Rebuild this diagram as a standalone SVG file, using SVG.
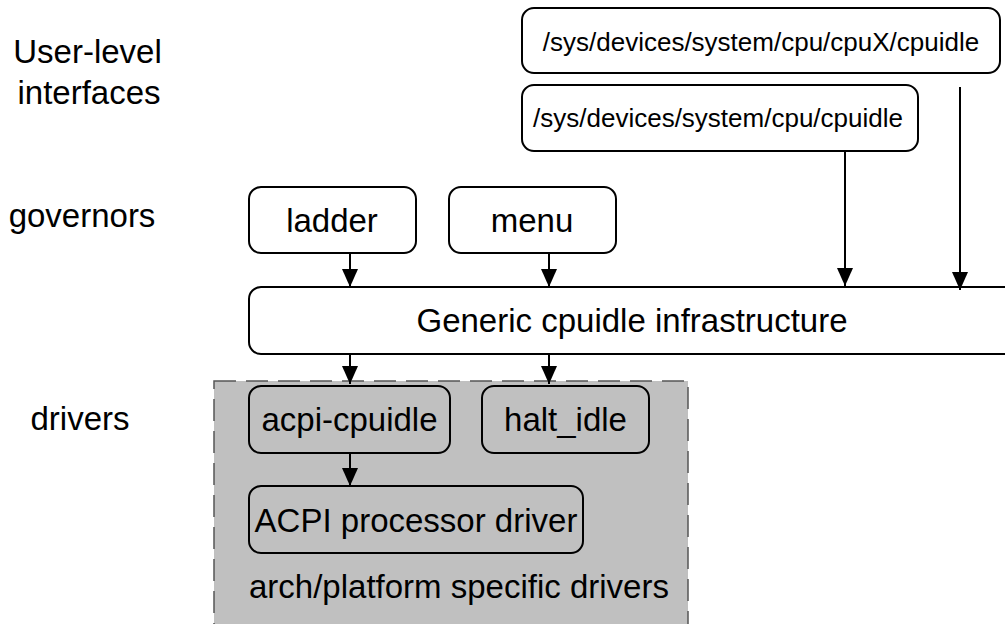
<svg xmlns="http://www.w3.org/2000/svg" width="1005" height="624" viewBox="0 0 1005 624">
<defs>
<marker id="arr" markerWidth="18" markerHeight="16" refX="18" refY="8" orient="auto" markerUnits="userSpaceOnUse" viewBox="0 0 18 16">
<path d="M0,0 L18,8 L0,16 Z" fill="#000"/>
</marker>
<style>
text{font-family:"Liberation Sans",Arial,sans-serif;fill:#000}
.box{fill:#fff;stroke:#000;stroke-width:2}
.gbox{fill:#c0c0c0;stroke:#000;stroke-width:2}
.big{font-size:33px}
.small{font-size:26px}
.c{text-anchor:middle}
.conn line{stroke:#000;stroke-width:2;marker-end:url(#arr)}
</style>
</defs>
<rect width="1005" height="624" fill="#fff"/>
<g id="labels">
<text class="big c" x="87.500" y="63">User-level</text>
<text class="big c" x="89" y="104">interfaces</text>
<text class="big c" x="82" y="227">governors</text>
<text class="big c" x="80" y="430">drivers</text>
</g>
<g id="drivers-area">
<rect x="214" y="381" width="474" height="250" fill="#c0c0c0" stroke="#555" stroke-width="1.5" stroke-dasharray="22,10"/>
<text class="big" x="249" y="598">arch/platform specific drivers</text>
</g>
<g id="cpux">
<rect class="box" x="522" y="8" width="478" height="65" rx="12"/>
<text class="small c" x="761" y="51">/sys/devices/system/cpu/cpuX/cpuidle</text>
</g>
<g id="cpuidle">
<rect class="box" x="522" y="85" width="396" height="66" rx="12"/>
<text class="small c" x="718" y="127">/sys/devices/system/cpu/cpuidle</text>
</g>
<g id="ladder">
<rect class="box" x="249" y="187" width="167" height="66" rx="12"/>
<text class="big c" x="332" y="232">ladder</text>
</g>
<g id="menu">
<rect class="box" x="449" y="187" width="167" height="66" rx="12"/>
<text class="big c" x="532" y="232">menu</text>
</g>
<g id="generic">
<rect class="box" x="249" y="287" width="780" height="67" rx="12"/>
<text class="big c" x="632" y="332">Generic cpuidle infrastructure</text>
</g>
<g id="acpi-cpuidle">
<rect class="gbox" x="249" y="386" width="201" height="67" rx="12"/>
<text class="big c" x="349.500" y="431">acpi-cpuidle</text>
</g>
<g id="halt_idle">
<rect class="gbox" x="482" y="386" width="167" height="67" rx="12"/>
<text class="big c" x="565.500" y="431">halt_idle</text>
</g>
<g id="acpi-processor">
<rect class="gbox" x="249" y="486" width="334" height="67" rx="12"/>
<text class="big c" x="416" y="532">ACPI processor driver</text>
</g>
<g class="conn" id="connectors">
<line x1="350" y1="253" x2="350" y2="287"/>
<line x1="549" y1="253" x2="549" y2="287"/>
<line x1="845" y1="151" x2="845" y2="286"/>
<line x1="960" y1="87" x2="960" y2="290"/>
<line x1="350" y1="354" x2="350" y2="384"/>
<line x1="549" y1="354" x2="549" y2="384"/>
<line x1="350" y1="453" x2="350" y2="486"/>
</g>
</svg>
